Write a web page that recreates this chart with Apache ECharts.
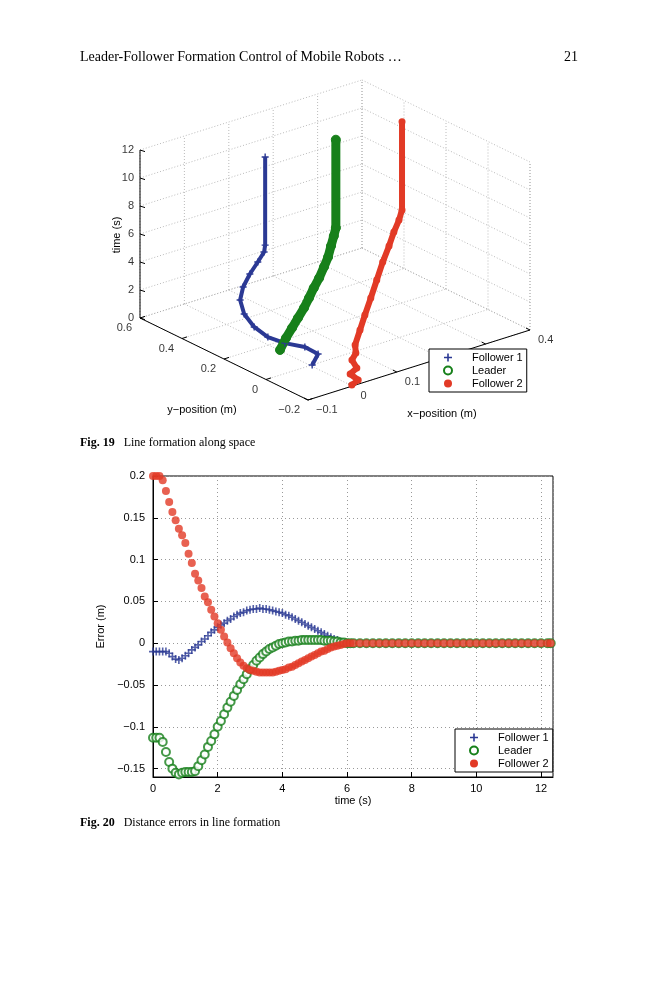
<!DOCTYPE html>
<html><head><meta charset="utf-8">
<script src="https://cdn.jsdelivr.net/npm/echarts@6/dist/echarts.min.js"></script>
<style>html,body{margin:0;background:#fff}#c{width:659px;height:1000px}</style>
</head><body><div id="c"></div>
<script>
// ---- Fig. 20 data: distance errors ----
const errT = [0,0.1,0.2,0.3,0.4,0.5,0.6,0.7,0.8,0.9,1.0,1.1,1.2,1.3,1.4,1.5,1.6,1.7,1.8,1.9,2.0,2.1,2.2,2.3,2.4,2.5,2.6,2.7,2.8,2.9,3.0,3.1,3.2,3.3,3.4,3.5,3.6,3.7,3.8,3.9,4.0,4.1,4.2,4.3,4.4,4.5,4.6,4.7,4.8,4.9,5.0,5.1,5.2,5.3,5.4,5.5,5.6,5.7,5.8,5.9,6.0];
const errF1 = [-0.01,-0.01,-0.01,-0.01,-0.01,-0.012,-0.016,-0.019,-0.020,-0.018,-0.015,-0.012,-0.008,-0.005,-0.002,0.002,0.005,0.009,0.013,0.016,0.019,0.022,0.024,0.027,0.029,0.032,0.034,0.036,0.037,0.039,0.040,0.041,0.041,0.042,0.041,0.041,0.040,0.039,0.038,0.037,0.036,0.034,0.033,0.031,0.029,0.027,0.025,0.023,0.021,0.019,0.017,0.015,0.013,0.011,0.009,0.007,0.005,0.004,0.002,0.001,0];
const errL = [-0.113,-0.113,-0.113,-0.118,-0.130,-0.142,-0.150,-0.155,-0.157,-0.155,-0.154,-0.154,-0.154,-0.153,-0.147,-0.140,-0.133,-0.124,-0.117,-0.109,-0.100,-0.093,-0.085,-0.077,-0.070,-0.063,-0.056,-0.049,-0.043,-0.037,-0.031,-0.026,-0.021,-0.017,-0.013,-0.010,-0.007,-0.005,-0.003,-0.001,0.000,0.001,0.002,0.002,0.003,0.003,0.004,0.004,0.004,0.004,0.004,0.004,0.004,0.003,0.003,0.003,0.002,0.002,0.001,0.001,0];
const errF2 = [0.2,0.2,0.2,0.195,0.182,0.169,0.157,0.147,0.137,0.129,0.120,0.107,0.096,0.083,0.075,0.066,0.056,0.049,0.040,0.032,0.024,0.016,0.008,0.001,-0.006,-0.012,-0.018,-0.023,-0.027,-0.030,-0.032,-0.033,-0.034,-0.035,-0.035,-0.035,-0.035,-0.035,-0.034,-0.033,-0.032,-0.031,-0.029,-0.028,-0.026,-0.024,-0.022,-0.020,-0.018,-0.016,-0.014,-0.012,-0.010,-0.009,-0.007,-0.005,-0.004,-0.003,-0.002,-0.001,0];
const tailT = [6.1,6.2,6.4,6.6,6.8,7.0,7.2,7.4,7.6,7.8,8.0,8.2,8.4,8.6,8.8,9.0,9.2,9.4,9.6,9.8,10.0,10.2,10.4,10.6,10.8,11.0,11.2,11.4,11.6,11.8,12.0,12.2,12.3];
const tailErr = [0,0,0,0,0,0,0,0,0,0,0,0,0,0,0,0,0,0,0,0,0,0,0,0,0,0,0,0,0,0,0,0,0];
const errYTicks = [-0.15,-0.1,-0.05,0,0.05,0.1,0.15,0.2];

// ---- Fig. 19 data: trajectories (x, y position vs time) ----
const trajT = [0,0.5,1,1.5,2,2.5,3,3.5,4,4.5,5,5.5,6,12.3];
const f1X = [0.004,0.023,0.005,-0.031,-0.057,-0.067,-0.064,-0.05,-0.029,-0.003,0.022,0.039,0.04,0.04];
const f1Y = [0.0,0.012,0.037,0.056,0.082,0.126,0.18,0.229,0.259,0.282,0.297,0.303,0.30,0.30];
const ldX = [0.002,0.024,0.041,0.057,0.074,0.089,0.104,0.12,0.138,0.152,0.167,0.179,0.185,0.185];
const ldY = [0.149,0.167,0.174,0.18,0.187,0.195,0.204,0.212,0.227,0.237,0.255,0.267,0.27,0.27];
const f2T = [0,0.25,0.5,0.75,1,1.25,1.5,2,2.5,3,3.5,4,4.5,5,5.5,6,12.3];
const f2X = [0.002,0.015,0.011,0.027,0.033,0.048,0.06,0.089,0.118,0.154,0.193,0.232,0.266,0.292,0.313,0.326,0.326];
const f2Y = [-0.193,-0.196,-0.166,-0.164,-0.128,-0.115,-0.086,-0.048,-0.01,0.038,0.092,0.146,0.188,0.22,0.24,0.253,0.253];
const xTicks = [-0.1,0,0.1,0.2,0.3,0.4];
const yTicks = [-0.2,0,0.2,0.4,0.6];
const zTicks = [0,2,4,6,8,10,12];
const zMax = 12;

// view projection of the 3-D box onto the page
function proj(x, y, z) {
  const a = x + 0.1, b = y + 0.2;
  return [308 + a * 444 - b * 210, 400 - a * 140 - b * 102.5 - z * 14];
}

const BLUE = '#2b3994', GREEN = '#17801a', RED = '#e23a26';
const PLUS = 'path://M4,0H6V4H10V6H6V10H4V6H0V4H4Z';
const FONT = 'Liberation Sans';

// box segments
const dotted = [], solid = [];
const seg = (arr, p, q) => arr.push(proj(...p).concat(proj(...q)));
xTicks.forEach(x => { seg(dotted, [x, -0.2, 0], [x, 0.6, 0]); seg(dotted, [x, 0.6, 0], [x, 0.6, zMax]); });
yTicks.forEach(y => { seg(dotted, [-0.1, y, 0], [0.4, y, 0]); seg(dotted, [0.4, y, 0], [0.4, y, zMax]); });
zTicks.forEach(z => { seg(dotted, [-0.1, 0.6, z], [0.4, 0.6, z]); seg(dotted, [0.4, 0.6, z], [0.4, -0.2, z]); });
seg(dotted, [0.4, -0.2, 0], [0.4, -0.2, zMax]);
seg(solid, [-0.1, 0.6, 0], [-0.1, 0.6, zMax]);
seg(solid, [-0.1, 0.6, 0], [-0.1, -0.2, 0]);
seg(solid, [-0.1, -0.2, 0], [0.4, -0.2, 0]);
const ticks = [];
zTicks.forEach(z => { const p = proj(-0.1, 0.6, z); ticks.push([p[0], p[1], p[0] + 5, p[1] + 1.6]); });
yTicks.forEach(y => { const p = proj(-0.1, y, 0); ticks.push([p[0], p[1], p[0] + 5, p[1] - 1.6]); });
xTicks.forEach(x => { const p = proj(x, -0.2, 0); ticks.push([p[0], p[1], p[0] - 4, p[1] - 2]); });

const segSeries = (data, style) => ({
  type: 'custom', xAxisIndex: 1, yAxisIndex: 1, silent: true, z: 1, data,
  renderItem: (params, api) => {
    const p = api.coord([api.value(0), api.value(1)]), q = api.coord([api.value(2), api.value(3)]);
    return { type: 'line', shape: { x1: p[0], y1: p[1], x2: q[0], y2: q[1] }, style };
  }
});
const labelSeries = (pts, align, dx, dy) => ({
  type: 'scatter', xAxisIndex: 1, yAxisIndex: 1, symbolSize: 0, silent: true,
  data: pts.map(p => ({ value: p.slice(0, 2), name: p[2] })),
  label: { show: true, formatter: '{b}', position: 'inside', align, offset: [dx, dy], color: '#000', fontFamily: FONT, fontSize: 11 }
});
const trajSeries = (name, T, X, Y, color, width, symbol, size, itemStyle) => ({
  name, type: 'line', xAxisIndex: 1, yAxisIndex: 1, z: 3,
  data: T.map((t, i) => proj(X[i], Y[i], t)),
  lineStyle: { color, width }, itemStyle,
  symbol, symbolSize: size, showSymbol: true
});
const fmtMinus = v => String(v).replace('-', '\u2212');
const legendData = [
  { name: 'Follower 1', icon: PLUS, itemStyle: { color: BLUE } },
  { name: 'Leader', icon: 'circle', itemStyle: { color: '#fff', borderColor: GREEN, borderWidth: 2 } },
  { name: 'Follower 2', icon: 'circle', itemStyle: { color: RED } }
];

const chart = echarts.init(document.getElementById('c'));
chart.setOption({
  animation: false,
  backgroundColor: '#fff',
  textStyle: { fontFamily: FONT },
  grid: [
    { left: 153, right: 106, top: 476, height: 301, show: true, borderColor: '#000', borderWidth: 1 },
    { left: 0, top: 0, width: 659, height: 1000 }
  ],
  xAxis: [
    { type: 'value', gridIndex: 0, min: 0, max: 12.37, interval: 2, name: 'time (s)', nameLocation: 'middle', nameGap: 18,
      nameTextStyle: { color: '#000', fontSize: 11 },
      axisLine: { onZero: false, lineStyle: { color: '#000' } }, axisTick: { inside: true, length: 5, lineStyle: { color: '#000' } },
      axisLabel: { color: '#000', fontSize: 11, margin: 6, showMaxLabel: false },
      splitLine: { show: true, lineStyle: { color: '#999', type: [1, 3] } } },
    { type: 'value', gridIndex: 1, min: 0, max: 659, show: false }
  ],
  yAxis: [
    { type: 'value', gridIndex: 0, min: -0.16, max: 0.2, name: 'Error (m)', nameLocation: 'middle', nameGap: 38,
      nameTextStyle: { color: '#000', fontSize: 11 },
      axisLine: { onZero: false, lineStyle: { color: '#000' } },
      axisTick: { inside: true, length: 5, customValues: errYTicks, lineStyle: { color: '#000' } },
      axisLabel: { color: '#000', fontSize: 11, customValues: errYTicks, formatter: fmtMinus },
      splitLine: { show: true, lineStyle: { color: '#999', type: [1, 3] } } },
    { type: 'value', gridIndex: 1, min: 0, max: 1000, inverse: true, show: false }
  ],
  legend: [
    { left: 429, top: 349, orient: 'vertical', itemGap: 2, itemWidth: 10, itemHeight: 8, padding: [3, 4, 3, 14],
      borderColor: '#000', borderWidth: 1, backgroundColor: '#fff', textStyle: { fontSize: 11, color: '#000', padding: [0, 0, 0, 14] },
      data: legendData },
    { left: 455, top: 729, orient: 'vertical', itemGap: 2, itemWidth: 10, itemHeight: 8, padding: [3, 4, 3, 14],
      borderColor: '#000', borderWidth: 1, backgroundColor: '#fff', textStyle: { fontSize: 11, color: '#000', padding: [0, 0, 0, 14] },
      data: legendData }
  ],
  graphic: [
    { type: 'text', left: 80, top: 50, style: { text: 'Leader-Follower Formation Control of Mobile Robots \u2026', font: '14px "Liberation Serif"', fill: '#000' } },
    { type: 'text', left: 564, top: 50, style: { text: '21', font: '14px "Liberation Serif"', fill: '#000' } },
    { type: 'text', left: 80, top: 437, style: { text: '{b|Fig. 19}   Line formation along space', rich: { b: { font: 'bold 12px "Liberation Serif"' } }, font: '12px "Liberation Serif"', fill: '#000' } },
    { type: 'text', left: 80, top: 817, style: { text: '{b|Fig. 20}   Distance errors in line formation', rich: { b: { font: 'bold 12px "Liberation Serif"' } }, font: '12px "Liberation Serif"', fill: '#000' } },
    { type: 'text', x: 117, y: 235, rotation: Math.PI / 2, style: { text: 'time (s)', font: '11px "Liberation Sans"', fill: '#000', align: 'center', verticalAlign: 'middle' } },
    { type: 'text', x: 202, y: 410, style: { text: 'y\u2212position (m)', font: '11px "Liberation Sans"', fill: '#000', align: 'center', verticalAlign: 'middle' } },
    { type: 'text', x: 442, y: 414, style: { text: 'x\u2212position (m)', font: '11px "Liberation Sans"', fill: '#000', align: 'center', verticalAlign: 'middle' } }
  ],
  series: [
    segSeries(dotted, { stroke: '#aaa', lineWidth: 0.8, lineDash: [1, 2] }),
    segSeries(solid, { stroke: '#000', lineWidth: 1 }),
    segSeries(ticks, { stroke: '#000', lineWidth: 1 }),
    labelSeries(zTicks.map(z => proj(-0.1, 0.6, z).concat(String(z))), 'right', -6, 0),
    labelSeries(yTicks.map(y => proj(-0.1, y, 0).concat(fmtMinus(y))), 'right', -8, 10),
    labelSeries(xTicks.filter(x => x !== 0.2 && x !== 0.3).map(x => proj(x, -0.2, 0).concat(fmtMinus(x))), 'left', 8, 10),
    trajSeries('Follower 1', trajT, f1X, f1Y, BLUE, 4, PLUS, 7, { color: BLUE }),
    trajSeries('Leader', trajT, ldX, ldY, GREEN, 9, 'circle', 9, { color: GREEN, borderColor: GREEN }),
    trajSeries('Follower 2', f2T, f2X, f2Y, RED, 6, 'circle', 7, { color: RED }),
    { name: 'Follower 1', type: 'scatter', xAxisIndex: 0, yAxisIndex: 0, symbol: PLUS, symbolSize: 8, itemStyle: { color: BLUE },
      data: errT.map((t, i) => [t, errF1[i]]).concat(tailT.map((t, i) => [t, tailErr[i]])) },
    { name: 'Leader', type: 'scatter', xAxisIndex: 0, yAxisIndex: 0, symbol: 'circle', symbolSize: 8,
      itemStyle: { color: '#fff', borderColor: GREEN, borderWidth: 2 },
      data: errT.map((t, i) => [t, errL[i]]).concat(tailT.map((t, i) => [t, tailErr[i]])) },
    { name: 'Follower 2', type: 'scatter', xAxisIndex: 0, yAxisIndex: 0, symbol: 'circle', symbolSize: 8, itemStyle: { color: RED },
      data: errT.map((t, i) => [t, errF2[i]]).concat(tailT.map((t, i) => [t, tailErr[i]])) }
  ]
});
</script></body></html>
